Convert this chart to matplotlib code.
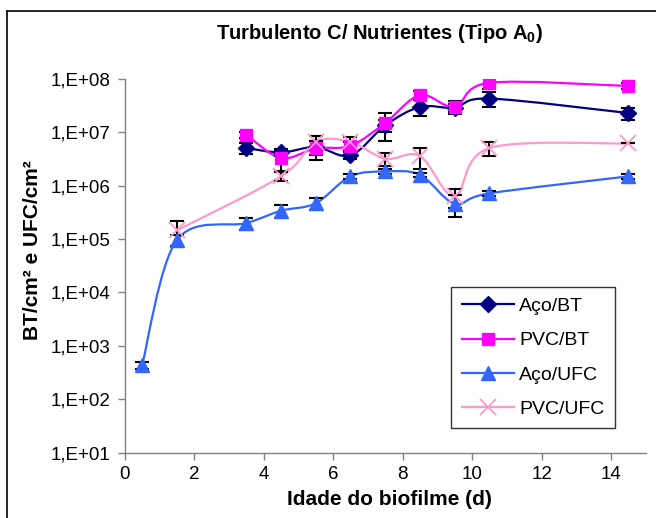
import numpy as np
import matplotlib
matplotlib.use('Agg')
import matplotlib.pyplot as plt
from matplotlib.path import Path
from matplotlib.patches import PathPatch
from matplotlib.lines import Line2D
from matplotlib.ticker import FixedLocator, FuncFormatter, NullLocator

plt.rcParams['font.family'] = ['Liberation Sans', 'DejaVu Sans']
plt.rcParams['mathtext.fontset'] = 'custom'
plt.rcParams['mathtext.rm'] = 'Liberation Sans'
plt.rcParams['mathtext.bf'] = 'Liberation Sans:bold'

# Data (days, counts per cm2)
x_bt = [3.5, 4.5, 5.5, 6.5, 7.5, 8.5, 9.5, 10.5, 14.5]
aco_bt = [5.1e6, 4.2e6, 5.3e6, 3.7e6, 1.35e7, 3.0e7, 2.9e7, 4.3e7, 2.3e7]
aco_bt_err = [1.2e6, 6e5, 1.5e6, 6e5, 3.5e6, 1.0e7, 5e6, 1.3e7, 6e6]
pvc_bt = [9.0e6, 3.3e6, 5.0e6, 5.6e6, 1.5e7, 5.0e7, 3.0e7, 8.5e7, 7.4e7]
pvc_bt_err = [1.0e6, 1.4e6, 2.0e6, 1.0e6, 8e6, 1.0e7, 8e6, 2.0e7, 1.0e7]

x_aco_ufc = [0.5, 1.5, 3.5, 4.5, 5.5, 6.5, 7.5, 8.5, 9.5, 10.5, 14.5]
aco_ufc = [4.3e2, 9.5e4, 2.0e5, 3.4e5, 4.7e5, 1.5e6, 1.85e6, 1.6e6, 4.6e5, 7.2e5, 1.5e6]
aco_ufc_err = [7e1, 2.2e4, 5e4, 9e4, 1.2e5, 1.5e5, 2e5, 1.5e5, 2e5, 8e4, 1.5e5]

x_pvc_ufc = [1.5, 4.5, 5.5, 6.5, 7.5, 8.5, 9.5, 10.5, 14.5]
pvc_ufc = [1.45e5, 1.5e6, 6.6e6, 6.6e6, 3.2e6, 3.6e6, 6.3e5, 5.1e6, 6.2e6]
pvc_ufc_err = [7e4, 3e5, 2e6, 1.5e6, 9e5, 1.5e6, 2.5e5, 1.5e6, 0]

labels = ['Aço/BT', 'PVC/BT', 'Aço/UFC', 'PVC/UFC']
colors = ['#000080', '#FF00FF', '#3366FF', '#FF99CC']
markers = ['D', 's', '^', 'x']
msizes = [8, 9, 10.5, 11]


def smooth_path(x, y):
    # Excel-style smoothed line (Bezier through the points), built in x / log10(y)
    lx = np.asarray(x, float)
    ly = np.log10(np.asarray(y, float))
    n = len(lx)
    verts = [(lx[0], ly[0])]
    codes = [Path.MOVETO]
    for i in range(n - 1):
        a = i - 1 if i > 0 else i
        b = i + 2 if i + 2 < n else i + 1
        c1 = (lx[i] + (lx[i + 1] - lx[a]) / 6, ly[i] + (ly[i + 1] - ly[a]) / 6)
        c2 = (lx[i + 1] - (lx[b] - lx[i]) / 6, ly[i + 1] - (ly[b] - ly[i]) / 6)
        verts += [c1, c2, (lx[i + 1], ly[i + 1])]
        codes += [Path.CURVE4] * 3
    verts = np.array(verts)
    verts[:, 1] = 10 ** verts[:, 1]
    return Path(verts, codes)


fig = plt.figure(figsize=(6.56, 5.18), dpi=100)
ax = fig.add_axes([0.190, 0.1264, 0.7945, 0.7211])

series = [(x_bt, aco_bt, aco_bt_err), (x_bt, pvc_bt, pvc_bt_err),
          (x_aco_ufc, aco_ufc, aco_ufc_err), (x_pvc_ufc, pvc_ufc, pvc_ufc_err)]

handles = []
for (xs, ys, es), lab, col, mk, ms in zip(series, labels, colors, markers, msizes):
    ax.add_patch(PathPatch(smooth_path(xs, ys), fill=False, edgecolor=col, lw=1.6, zorder=2))
    ax.errorbar(xs, ys, yerr=es, fmt='none', ecolor='black', elinewidth=1.5,
                capsize=5, capthick=1.5, zorder=3)
    if mk == 'x':
        ax.plot(xs, ys, linestyle='none', marker=mk, color=col, ms=ms, mew=1.3, zorder=4)
    else:
        ax.plot(xs, ys, linestyle='none', marker=mk, color=col, mec=col, ms=ms, zorder=4)
    handles.append(Line2D([], [], color=col, lw=1.6, marker=mk, ms=ms,
                          mew=1.3 if mk == 'x' else 1.0, label=lab))

ax.set_yscale('log')
ax.set_xlim(0, 15)
ax.set_ylim(1e1, 1e8)
ax.set_xticks(range(0, 15, 2))
ax.yaxis.set_major_locator(FixedLocator([10.0 ** k for k in range(1, 9)]))
ax.yaxis.set_minor_locator(NullLocator())
ax.yaxis.set_major_formatter(FuncFormatter(lambda v, p: '1,E+%02d' % round(np.log10(v))))

for s in ['top', 'right']:
    ax.spines[s].set_visible(False)
for s in ['left', 'bottom']:
    ax.spines[s].set_color('#808080')
    ax.spines[s].set_linewidth(1.0)
ax.tick_params(axis='both', direction='out', length=5, width=1, color='#808080',
               labelsize=13.5, pad=5)

fig.text(0.578, 0.936, r'Turbulento C/ Nutrientes (Tipo A$_\mathbf{0}$)',
         ha='center', va='center', fontsize=14.5, fontweight='bold')
fig.text(0.593, 0.035, 'Idade do biofilme (d)', ha='center', va='center',
         fontsize=15, fontweight='bold')
fig.text(0.050, 0.517, 'BT/cm² e UFC/cm²', ha='center', va='center',
         rotation=90, fontsize=15, fontweight='bold')

leg = fig.legend(handles=handles, loc='upper right', bbox_to_anchor=(0.9375, 0.446),
                 fontsize=14, frameon=True, fancybox=False, handlelength=2.7,
                 handletextpad=0.25, labelspacing=0.85, borderpad=0.55, borderaxespad=0)
leg.get_frame().set_edgecolor('black')
leg.get_frame().set_linewidth(1.0)

# outer chart border (only top and left edges show in the crop)
fig.add_artist(Line2D([0.0107, 0.0107], [0.0, 0.9795], transform=fig.transFigure,
                      color='black', lw=1.2))
fig.add_artist(Line2D([0.0107, 1.0], [0.9795, 0.9795], transform=fig.transFigure,
                      color='black', lw=1.2))

fig.savefig('out.png', dpi=100)
